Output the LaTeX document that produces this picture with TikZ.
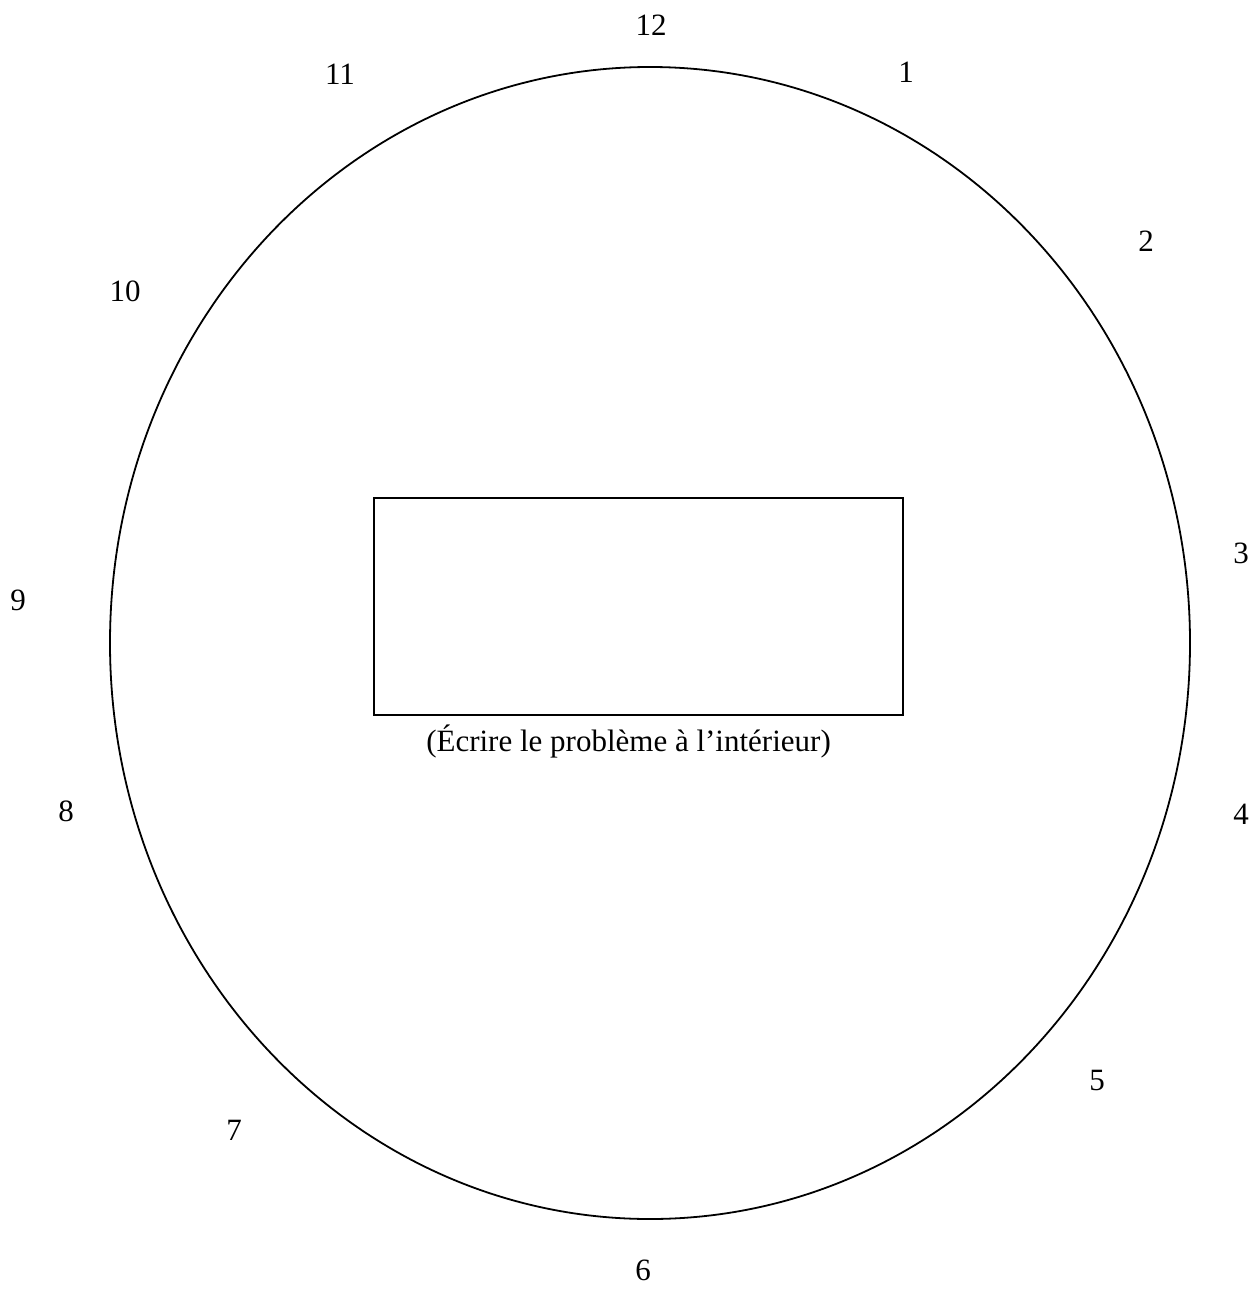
\documentclass[tikz,border=0pt]{standalone}
\usepackage{fontspec}
\setmainfont{Liberation Serif}
\usetikzlibrary{shapes.geometric,positioning}
\begin{document}
\begin{tikzpicture}[x=1pt,y=-1pt,
  lbl/.style={font=\fontsize{31}{36}\selectfont, inner sep=0pt},
  shapeline/.style={draw=black, line width=1.8pt}]
\useasboundingbox (0,0) rectangle (1258,1311);
\node[shapeline, ellipse, minimum width=1080, minimum height=1152, inner sep=0pt] (face) at (650,643) {};
\node[shapeline, rectangle, minimum width=529, minimum height=217, inner sep=0pt] (box) at (638.5,606.5) {};
\node[lbl] (caption) at (628.5,741) {(Écrire le problème à l’intérieur)};
\node[lbl] (h12) at (651,25) {12};
\node[lbl] (h1) at (906,72) {1};
\node[lbl] (h2) at (1146,241) {2};
\node[lbl] (h3) at (1241,553) {3};
\node[lbl] (h4) at (1241,814) {4};
\node[lbl] (h5) at (1097,1080) {5};
\node[lbl] (h6) at (643,1270) {6};
\node[lbl] (h7) at (234,1130) {7};
\node[lbl] (h8) at (66,811) {8};
\node[lbl] (h9) at (18,600) {9};
\node[lbl] (h10) at (125,291) {10};
\node[lbl] (h11) at (340,74) {11};
\end{tikzpicture}
\end{document}
